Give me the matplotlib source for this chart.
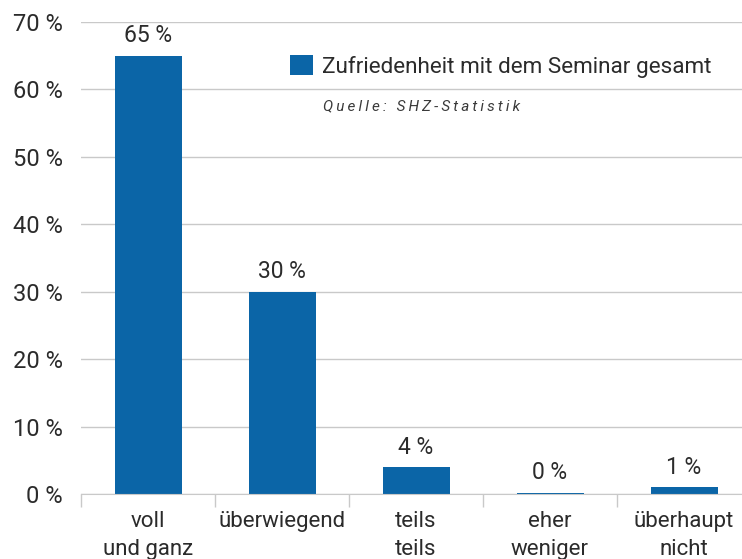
"""Zufriedenheit mit dem Seminar - bar chart"""

import numpy as np
import matplotlib.pyplot as plt
from matplotlib.ticker import FixedLocator

CATEGORIES = ["voll\nund ganz", "überwiegend", "teils\nteils", "eher\nweniger",
              "überhaupt\nnicht"]
VALUES = [65, 30, 4, 0.2, 1]
VALUE_LABELS = ["65 %", "30 %", "4 %", "0 %", "1 %"]
Y_TICKS = [0, 10, 20, 30, 40, 50, 60, 70]

SERIES_NAME = "Zufriedenheit mit dem Seminar gesamt"
SOURCE = "Quelle: SHZ-Statistik"

BAR_COLOR = "#0b65a7"
TEXT_COLOR = "#2b2b2b"
GRID_COLOR = "#c9c9c9"
DPI = 100

plt.rcParams["font.family"] = ["Roboto", "DejaVu Sans"]

fig = plt.figure(figsize=(742 / DPI, 559 / DPI), dpi=DPI)
ax = fig.add_axes([81 / 742, 1 - 494 / 559, 670 / 742, 472 / 559])

x = np.arange(len(CATEGORIES))
bars = ax.bar(x, VALUES, width=0.5, color=BAR_COLOR, zorder=3,
              label=SERIES_NAME)

# value labels above bars
for xi, v, lab in zip(x, VALUES, VALUE_LABELS):
    ax.annotate(lab, (xi, v), xytext=(0, 6), textcoords="offset points",
                ha="center", va="bottom", fontsize=16.5, color=TEXT_COLOR)

ax.set_xlim(-0.5, len(CATEGORIES) - 0.5)
ax.set_ylim(0, 70)
ax.set_yticks(Y_TICKS)
ax.set_yticklabels(["{} %".format(t) for t in Y_TICKS])
ax.set_xticks(x)
ax.set_xticklabels(CATEGORIES, linespacing=1.45)
ax.xaxis.set_minor_locator(FixedLocator(np.arange(len(CATEGORIES) + 1) - 0.5))

ax.tick_params(axis="y", length=0, pad=13, labelsize=17, labelcolor=TEXT_COLOR)
ax.tick_params(axis="x", which="major", length=0, pad=12, labelsize=16,
               labelcolor=TEXT_COLOR)
ax.tick_params(axis="x", which="minor", length=9, width=1, color=GRID_COLOR)

ax.grid(axis="y", color=GRID_COLOR, linewidth=1, zorder=0)
for side in ["top", "right", "left"]:
    ax.spines[side].set_visible(False)
ax.spines["bottom"].set_color(GRID_COLOR)
ax.spines["bottom"].set_zorder(4)

leg = ax.legend(loc="upper left", bbox_to_anchor=(290 / 742, 1 - 55 / 559),
                bbox_transform=fig.transFigure, frameon=False, fontsize=16.2,
                handlelength=1.0, handleheight=1.0, handletextpad=0.4,
                borderaxespad=0, borderpad=0)
for t in leg.get_texts():
    t.set_color(TEXT_COLOR)

fig.text(323 / 742, 1 - 106 / 559, "\u2009".join(SOURCE), fontsize=11,
         style="italic", color="#3a3a3a", va="center", ha="left")

plt.savefig("out.png", dpi=DPI)
